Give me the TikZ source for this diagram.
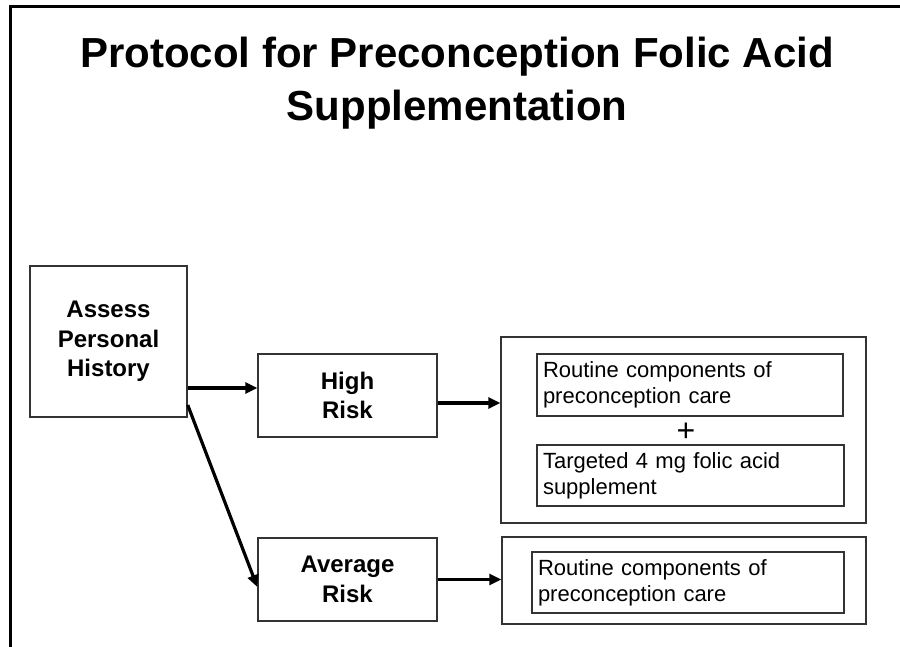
\documentclass[tikz,border=0pt]{standalone}
\usepackage{fontspec}
\setmainfont{Liberation Sans}
\usetikzlibrary{arrows.meta,positioning,calc}

\begin{document}
\begin{tikzpicture}[
    x=1pt, y=-1pt,
    box/.style={draw=black!80, line width=1.4pt, inner sep=0pt, align=center, font=\fontsize{24}{29.5}\selectfont\bfseries},
    textbox/.style={draw=black!80, line width=1.4pt, inner xsep=6pt, inner ysep=0pt, align=left, font=\fontsize{22}{26}\selectfont},
    frame/.style={draw=black!80, line width=1.4pt, inner sep=0pt},
    arrow/.style={-{Triangle[length=12pt,width=11pt]}, line width=3.2pt}
]
    \useasboundingbox (0,0) rectangle (900,647);
    \draw[line width=3pt] (900,7) -- (10,7) -- (10,647);

    \node[font=\fontsize{42}{53}\selectfont\bfseries, align=center, inner sep=0pt] (title) at (457,83)
        {Protocol for Preconception Folic Acid\\Supplementation};

    \node[box, minimum width=157pt, minimum height=151pt] (assess) at (108.5,341.5) {Assess\\Personal\\History};
    \node[box, minimum width=179pt, minimum height=83pt] (high) at (347.5,395.5) {High\\Risk};
    \node[box, minimum width=179pt, minimum height=83pt] (avg) at (347.5,579.5) {Average\\Risk};

    \node[frame, minimum width=365pt, minimum height=186pt] (outerhigh) at (683.5,430) {};
    \node[textbox, text width=294pt, minimum height=62pt] (routinehigh) at (690,385) {Routine components of\\preconception care};
    \node[font=\fontsize{32}{32}\selectfont, inner sep=0pt] (plus) at (686,432) {+};
    \node[textbox, text width=295pt, minimum height=61pt] (folic) at (690.5,475.5) {Targeted 4 mg folic acid\\supplement};

    \node[frame, minimum width=364pt, minimum height=87pt] (outeravg) at (684,580.5) {};
    \node[textbox, text width=300pt, minimum height=61pt] (routineavg) at (688,582.5) {Routine components of\\preconception care};

    \coordinate (hin) at ([yshift=7.5pt]high.west);
    \coordinate (hout) at ([yshift=-7.5pt]high.east);
    \draw[arrow] (assess.east |- hin) -- (hin);
    \draw[arrow] (hout) -- (outerhigh.west |- hout);
    \draw[arrow] ([yshift=-63.5pt]assess.east) -- ([yshift=-7.5pt]avg.west);
    \draw[arrow] (avg.east) -- (outeravg.west |- avg.east);
\end{tikzpicture}
\end{document}
